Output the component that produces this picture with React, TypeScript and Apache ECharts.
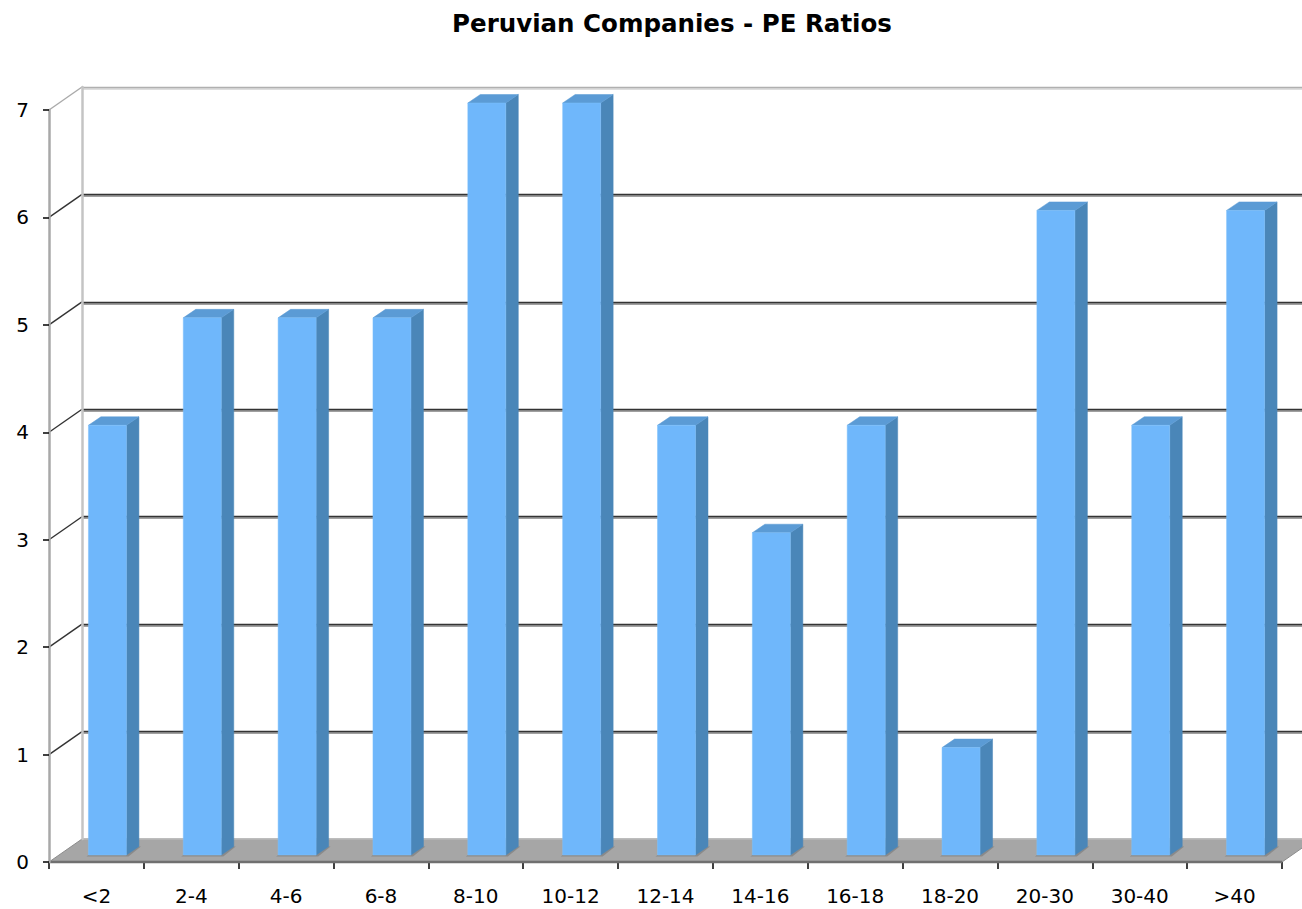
import React, { useEffect, useRef } from "react";
import * as echarts from "echarts";

const TITLE = "Peruvian Companies - PE Ratios";
const categories = ["<2", "2-4", "4-6", "6-8", "8-10", "10-12", "12-14", "14-16", "16-18", "18-20", "20-30", "30-40", ">40"];
const counts = [4, 5, 5, 5, 7, 7, 4, 3, 4, 1, 6, 4, 6];
const yTicks = [0, 1, 2, 3, 4, 5, 6, 7];

// depth projection (pixels)
const DEPTH_X = 33;
const DEPTH_Y = -23;
const BAR_FRONT_X = 11;
const BAR_FRONT_Y = -7;
const BAR_SIDE_X = 12.5;
const BAR_SIDE_Y = -8.5;
const BAR_W = 38;

export default function App() {
  const ref = useRef<HTMLDivElement>(null);
  useEffect(() => {
    if (!ref.current) return;
    const chart = echarts.init(ref.current, null, { renderer: "svg" });
    const font = "'DejaVu Sans', Verdana, sans-serif";
    const gridColors = ["#333", "#333", "#333", "#333", "#333", "#333", "#333", "#b0b0b0"];
    const shadowColors = ["#a0a0a0", "#a0a0a0", "#a0a0a0", "#a0a0a0", "#a0a0a0", "#a0a0a0", "#a0a0a0", "#dedede"];
    const backGrid = { left: 49 + DEPTH_X, right: 20 - DEPTH_X, top: 110 + DEPTH_Y, bottom: 47 - DEPTH_Y };
    const option: any = {
      animation: false,
      backgroundColor: "#ffffff",
      title: {
        text: TITLE,
        left: 667,
        textAlign: "center",
        top: 6,
        textStyle: { fontFamily: font, fontWeight: "bold", fontSize: 24.5, color: "#000" },
      },
      grid: [
        { left: 49, right: 20, top: 110, bottom: 47 },
        backGrid,
        { ...backGrid, top: backGrid.top + 1.5, bottom: backGrid.bottom - 1.5 },
      ],
      xAxis: [
        {
          gridIndex: 0,
          type: "category",
          data: categories,
          boundaryGap: true,
          axisLine: { show: false },
          axisTick: { show: true, length: 7, lineStyle: { color: "#000", width: 1.5 } },
          axisLabel: { fontFamily: font, fontSize: 20, color: "#000", margin: 24 },
          splitLine: { show: false },
        },
        { gridIndex: 1, type: "category", data: categories, show: false },
        { gridIndex: 2, type: "category", data: categories, show: false },
      ],
      yAxis: [
        {
          gridIndex: 0,
          type: "value",
          min: 0,
          max: 7,
          interval: 1,
          z: 3,
          axisLine: { show: true, lineStyle: { color: "#a8a8a8", width: 2.5 } },
          axisTick: { show: true, length: 6, lineStyle: { color: "#000", width: 1.5 } },
          axisLabel: { fontFamily: font, fontSize: 20, color: "#000", margin: 20 },
          splitLine: { show: false },
        },
        {
          gridIndex: 1,
          type: "value",
          min: 0,
          max: 7,
          interval: 1,
          z: 2,
          axisLine: { show: true, lineStyle: { color: "#c4c4c4", width: 2.5 } },
          axisTick: { show: false },
          axisLabel: { show: false },
          splitLine: { show: true, lineStyle: { color: gridColors, width: 1.4 } },
        },
        {
          gridIndex: 2,
          type: "value",
          min: 0,
          max: 7,
          interval: 1,
          z: 1,
          axisLine: { show: false },
          axisTick: { show: false },
          axisLabel: { show: false },
          splitLine: { show: true, lineStyle: { color: shadowColors, width: 2 } },
        },
      ],
      series: [
        {
          name: "walls",
          type: "custom",
          xAxisIndex: 0,
          yAxisIndex: 0,
          z: 1,
          silent: true,
          data: yTicks.filter((v) => v > 0).map((v) => [0, v]),
          renderItem: (params: any, api: any) => {
            const cs = params.coordSys;
            const y = api.coord([0, api.value(1)])[1];
            const top = api.value(1) === yTicks[yTicks.length - 1];
            return {
              type: "line",
              shape: { x1: cs.x, y1: y, x2: cs.x + DEPTH_X, y2: y + DEPTH_Y },
              style: { stroke: top ? "#aaa" : "#333", lineWidth: 1.4 },
            };
          },
        },
        {
          name: "floor",
          type: "custom",
          xAxisIndex: 0,
          yAxisIndex: 0,
          z: 2,
          silent: true,
          data: [[0, 0]],
          renderItem: (params: any, api: any) => {
            const cs = params.coordSys;
            const y0 = api.coord([0, 0])[1];
            const x0 = cs.x;
            const x1 = cs.x + cs.width;
            return {
              type: "group",
              children: [
                {
                  type: "polygon",
                  shape: {
                    points: [
                      [x0, y0],
                      [x1, y0],
                      [x1 + DEPTH_X, y0 + DEPTH_Y],
                      [x0 + DEPTH_X, y0 + DEPTH_Y],
                    ],
                  },
                  style: { fill: "#a6a6a6", stroke: "#8c8c8c", lineWidth: 1 },
                },
                {
                  type: "line",
                  shape: { x1: x0, y1: y0, x2: x1, y2: y0 },
                  style: { stroke: "#707070", lineWidth: 2.5 },
                },
                {
                  type: "line",
                  shape: { x1: x0 + DEPTH_X, y1: y0 + DEPTH_Y, x2: x1 + DEPTH_X, y2: y0 + DEPTH_Y },
                  style: { stroke: "#cfcfcf", lineWidth: 1 },
                },
              ],
            };
          },
        },
        {
          name: "PE Ratios",
          type: "custom",
          xAxisIndex: 0,
          yAxisIndex: 0,
          z: 3,
          data: counts.map((v, i) => [i, v]),
          renderItem: (params: any, api: any) => {
            const i = api.value(0);
            const v = api.value(1);
            const [cx, yt] = api.coord([i, v]);
            const yb = api.coord([i, 0])[1];
            const xl = cx + BAR_FRONT_X - BAR_W / 2;
            const xr = xl + BAR_W;
            const ft = yt + BAR_FRONT_Y;
            const fb = yb + BAR_FRONT_Y;
            return {
              type: "group",
              children: [
                {
                  type: "polygon",
                  shape: {
                    points: [
                      [xl - 2, fb + 1.5],
                      [xr + 2, fb + 1.5],
                      [xr + BAR_SIDE_X + 2, fb + BAR_SIDE_Y],
                      [xl + BAR_SIDE_X, fb + BAR_SIDE_Y],
                    ],
                  },
                  style: { fill: "#8a8a8a" },
                },
                {
                  type: "polygon",
                  shape: {
                    points: [
                      [xr, ft],
                      [xr + BAR_SIDE_X, ft + BAR_SIDE_Y],
                      [xr + BAR_SIDE_X, fb + BAR_SIDE_Y],
                      [xr, fb],
                    ],
                  },
                  style: { fill: "#4a86b8", stroke: "#4a86b8", lineWidth: 0.5 },
                },
                {
                  type: "polygon",
                  shape: {
                    points: [
                      [xl, ft],
                      [xl + BAR_SIDE_X, ft + BAR_SIDE_Y],
                      [xr + BAR_SIDE_X, ft + BAR_SIDE_Y],
                      [xr, ft],
                    ],
                  },
                  style: { fill: "#5b9bd5", stroke: "#5b9bd5", lineWidth: 0.5 },
                },
                {
                  type: "rect",
                  shape: { x: xl, y: ft, width: BAR_W, height: fb - ft },
                  style: { fill: "#6fb7fb", stroke: "#7fc0fb", lineWidth: 0.5 },
                },
              ],
            };
          },
        },
      ],
    };
    chart.setOption(option);
    return () => chart.dispose();
  }, []);
  return (
    <div
      ref={ref}
      style={{ position: "fixed", left: 0, top: 0, width: 1302, height: 909, background: "#fff" }}
    />
  );
}
